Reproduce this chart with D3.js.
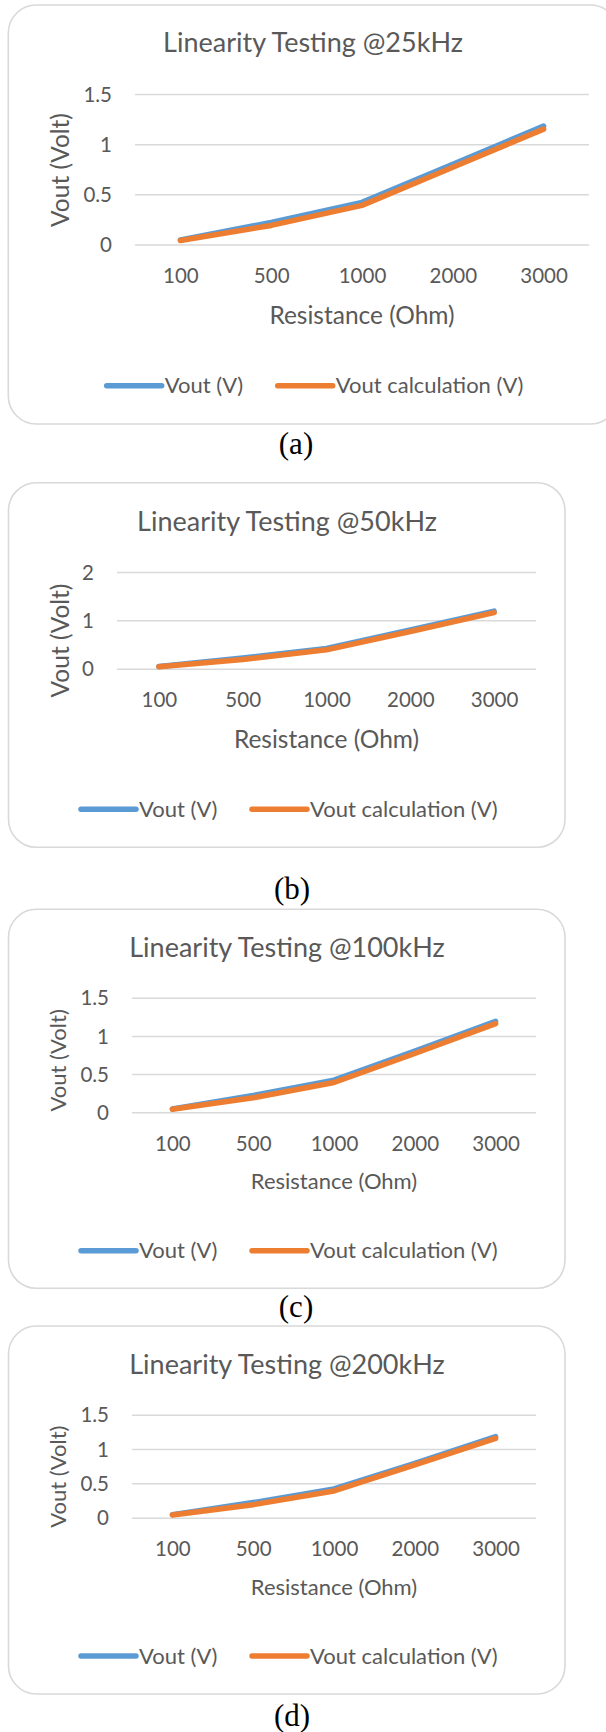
<!DOCTYPE html>
<html>
<head>
<meta charset="utf-8">
<script src="https://cdn.jsdelivr.net/npm/d3@7"></script>
<style>
  body { margin: 0; background: #fff; }
  text { font-family: Lato, 'Open Sans', sans-serif; fill: #595959; }
  .caption { font-family: 'Liberation Serif', 'Times New Roman', serif; fill: #000; }
</style>
</head>
<body>
<script>
// values
var resistance = ['100', '500', '1000', '2000', '3000'];

var vout25 = [0.045, 0.22, 0.42, 0.80, 1.18];
var voutCalc25 = [0.04, 0.19, 0.39, 0.77, 1.15];
var vout50 = [0.045, 0.22, 0.42, 0.80, 1.19];
var voutCalc50 = [0.04, 0.19, 0.39, 0.77, 1.16];
var vout100 = [0.045, 0.22, 0.42, 0.80, 1.19];
var voutCalc100 = [0.04, 0.19, 0.39, 0.77, 1.16];
var vout200 = [0.045, 0.22, 0.42, 0.79, 1.18];
var voutCalc200 = [0.04, 0.19, 0.39, 0.77, 1.155];

var yTicks25 = [0, 0.5, 1, 1.5];
var yTicks50 = [0, 1, 2];
var yTicks100 = [0, 0.5, 1, 1.5];
var yTicks200 = [0, 0.5, 1, 1.5];

var titles = ['Linearity Testing @25kHz', 'Linearity Testing @50kHz',
              'Linearity Testing @100kHz', 'Linearity Testing @200kHz'];
var captions = ['(a)', '(b)', '(c)', '(d)'];
var seriesNames = ['Vout (V)', 'Vout calculation (V)'];
var xTitle = 'Resistance (Ohm)';
var yTitle = 'Vout (Volt)';

var colors = ['#5B9BD5', '#ED7D31'];

document.addEventListener('DOMContentLoaded', function() {

  var svg = d3.select('body').append('svg').attr('width', 606).attr('height', 1732);

  // box / plot placement of each panel
  var panels = [
    { box: [8.3, 5, 610, 419], plot: [135, 589, 244.5, 94], title: [313, 52], yt: [60, 170],
      xt: 315, leg: [106.7, 385.7], cap: [296, 454], axisSize: 24.5,
      vout: vout25, calc: voutCalc25, ticks: yTicks25 },
    { box: [8.5, 482.7, 556.5, 364.6], plot: [117, 536, 668.7, 572], title: [287, 530.7], yt: [60, 640.5],
      xt: 739.5, leg: [81, 809.3], cap: [292, 898.5], axisSize: 24.5,
      vout: vout50, calc: voutCalc50, ticks: yTicks50 },
    { box: [8.5, 909.3, 556.5, 379], plot: [132, 536, 1112.3, 997.7], title: [287, 956.7], yt: [58, 1060.3],
      xt: 1181.7, leg: [81, 1250.7], cap: [296, 1317], axisSize: 22,
      vout: vout100, calc: voutCalc100, ticks: yTicks100 },
    { box: [8.5, 1326, 556.5, 368], plot: [132, 536, 1517.7, 1414.7], title: [287, 1374], yt: [58, 1476.7],
      xt: 1587, leg: [81, 1656], cap: [292, 1726], axisSize: 22,
      vout: vout200, calc: voutCalc200, ticks: yTicks200 }
  ];

  drawPanel = function(p, i) {
    var g = svg.append('g');

    g.append('rect')
      .attr('x', p.box[0]).attr('y', p.box[1])
      .attr('width', p.box[2]).attr('height', p.box[3])
      .attr('rx', 28).attr('ry', 28)
      .attr('fill', '#fff')
      .attr('stroke', '#D9D9D9')
      .attr('stroke-width', 1.6);

    var x = d3.scalePoint().domain(resistance).range([p.plot[0], p.plot[1]]).padding(0.5);
    var ymax = d3.max(p.ticks);
    var y = d3.scaleLinear().domain([0, ymax]).range([p.plot[2], p.plot[3]]);

    // gridlines + y tick labels
    var yAxis = g.append('g')
      .attr('transform', 'translate(' + p.plot[0] + ',0)')
      .call(d3.axisLeft(y).tickValues(p.ticks)
        .tickSize(-(p.plot[1] - p.plot[0])).tickPadding(23)
        .tickFormat(function(d) { return String(d); }));
    yAxis.select('.domain').remove();
    yAxis.selectAll('line').attr('stroke', '#D9D9D9').attr('stroke-width', 1.5);
    yAxis.selectAll('text')
      .style('font-size', '20.5px')
      .attr('dy', '0.35em');

    // category labels
    var xAxis = g.append('g')
      .attr('transform', 'translate(0,' + p.plot[2] + ')')
      .call(d3.axisBottom(x).tickSize(0));
    xAxis.select('.domain').remove();
    xAxis.selectAll('text')
      .style('font-size', '20.5px')
      .attr('y', 31.5)
      .attr('dy', '0.35em');

    // series lines, calculation drawn on top
    var line = d3.line()
      .x(function(d, j) { return x(resistance[j]); })
      .y(function(d) { return y(d); });

    [p.vout, p.calc].forEach(function(s, k) {
      g.append('path')
        .datum(s)
        .attr('d', line)
        .attr('fill', 'none')
        .attr('stroke', colors[k])
        .attr('stroke-width', 5.5)
        .attr('stroke-linecap', 'round')
        .attr('stroke-linejoin', 'round');
    });

    g.append('text')
      .attr('x', p.title[0]).attr('y', p.title[1])
      .attr('text-anchor', 'middle')
      .style('font-size', '27px')
      .text(titles[i]);

    g.append('text')
      .attr('transform', 'translate(' + p.yt[0] + ',' + p.yt[1] + ') rotate(-90)')
      .attr('text-anchor', 'middle')
      .attr('dy', '0.35em')
      .style('font-size', p.axisSize + 'px')
      .text(yTitle);

    g.append('text')
      .attr('x', (p.plot[0] + p.plot[1]) / 2).attr('y', p.xt)
      .attr('text-anchor', 'middle')
      .attr('dy', '0.35em')
      .style('font-size', p.axisSize + 'px')
      .text(xTitle);

    // legend
    var leg = g.selectAll('.leg').data(seriesNames).enter().append('g')
      .attr('transform', function(d, k) { return 'translate(' + (p.leg[0] + k * 171) + ',' + p.leg[1] + ')'; });

    leg.append('line')
      .attr('x1', 0).attr('x2', 55)
      .attr('stroke', function(d, k) { return colors[k]; })
      .attr('stroke-width', 5.5)
      .attr('stroke-linecap', 'round');

    leg.append('text')
      .attr('x', 58)
      .attr('dy', '0.35em')
      .style('font-size', '22px')
      .text(function(d) { return d; });

    svg.append('text')
      .attr('class', 'caption')
      .attr('x', p.cap[0]).attr('y', p.cap[1])
      .attr('text-anchor', 'middle')
      .style('font-size', '31px')
      .text(captions[i]);
  };

  panels.forEach(drawPanel);

})
</script>
</body>
</html>
